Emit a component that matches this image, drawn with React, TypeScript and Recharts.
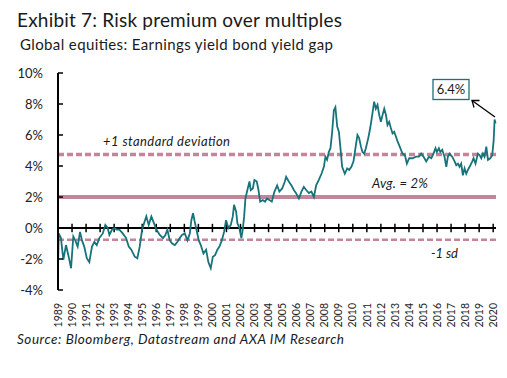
import React from 'react';
import { LineChart, Line, XAxis, YAxis, ReferenceLine } from 'recharts';

const years = [1989,1990,1991,1992,1993,1994,1995,1996,1997,1998,1999,2000,2001,2002,2003,2004,2005,2006,2007,2008,2009,2010,2011,2012,2013,2014,2015,2016,2017,2018,2019,2020];

const dates = [
  1989.0,1989.05,1989.21,1989.38,1989.57,1989.76,1989.93,1990.09,1990.23,1990.4,1990.57,1990.71,1990.87,
  1991.05,1991.23,1991.42,1991.59,1991.76,1991.94,1992.19,1992.37,1992.54,1992.66,1992.85,1993.01,1993.18,
  1993.37,1993.61,1993.85,1994.04,1994.22,1994.47,1994.65,1994.82,1994.99,1995.13,1995.29,1995.46,1995.65,
  1995.84,1996.01,1996.25,1996.48,1996.65,1996.79,1996.96,1997.13,1997.32,1997.5,1997.67,1997.84,1998.03,
  1998.22,1998.39,1998.5,1998.62,1998.74,1998.86,1999.03,1999.17,1999.36,1999.55,1999.71,1999.88,2000.03,
  2000.19,2000.35,2000.5,2000.67,2000.83,2000.97,2001.14,2001.31,2001.45,2001.54,2001.69,2001.78,2001.92,
  2002.06,2002.16,2002.26,2002.35,2002.49,2002.64,2002.73,2002.88,2002.99,2003.16,2003.28,2003.4,2003.59,
  2003.75,2003.88,2004.06,2004.23,2004.4,2004.61,2004.77,2004.97,2005.16,2005.25,2005.44,2005.63,2005.8,
  2005.96,2006.16,2006.34,2006.51,2006.68,2006.87,2007.05,2007.23,2007.39,2007.58,2007.77,2007.94,2008.05,
  2008.17,2008.29,2008.41,2008.53,2008.65,2008.76,2008.89,2009.01,2009.12,2009.24,2009.43,2009.6,2009.74,
  2009.9,2010.05,2010.22,2010.33,2010.45,2010.58,2010.69,2010.81,2010.93,2011.1,2011.24,2011.4,2011.52,
  2011.64,2011.76,2011.88,2012.0,2012.12,2012.24,2012.36,2012.47,2012.59,2012.71,2012.83,2012.95,2013.07,
  2013.18,2013.3,2013.43,2013.54,2013.71,2013.85,2014.02,2014.25,2014.5,2014.71,2014.87,2015.04,2015.23,
  2015.42,2015.59,2015.75,2015.89,2015.99,2016.13,2016.23,2016.37,2016.53,2016.66,2016.77,2016.89,2017.08,
  2017.25,2017.37,2017.49,2017.6,2017.72,2017.84,2017.96,2018.08,2018.2,2018.32,2018.51,2018.6,2018.74,
  2018.91,2019.03,2019.15,2019.27,2019.38,2019.51,2019.63,2019.79,2019.93,2020.03,2020.1,2020.17
];

const gap = [
  -2.7,-0.35,-0.65,-2.05,-1.1,-1.85,-2.6,-0.55,-0.8,-1.2,-0.25,-0.8,-1.2,
  -1.95,-2.2,-1.2,-0.9,-1.1,-0.65,-0.35,0.2,0.0,-0.45,-0.1,0.0,-0.1,
  -0.1,-0.35,-0.65,-1.2,-1.4,-1.85,-1.95,-1.2,-0.1,0.3,0.75,0.2,0.75,
  0.3,-0.1,-0.45,-0.65,-0.45,-0.1,-0.8,-1.0,-1.1,-0.9,-0.65,-0.45,-0.35,
  -0.8,-0.35,0.5,0.95,0.4,-0.1,-0.8,-1.1,-1.65,-1.4,-2.2,-2.6,-1.85,
  -1.75,-1.4,-1.2,-0.8,-0.25,0.5,0.0,0.2,0.75,1.5,1.05,0.3,0.0,
  -0.65,-0.1,0.75,1.9,2.45,3.0,2.45,2.55,3.1,3.0,2.45,1.7,1.8,
  1.7,1.9,1.8,1.7,2.3,2.75,2.35,2.55,3.0,3.3,3.0,2.75,2.45,
  2.25,1.9,2.35,2.65,2.45,2.25,2.35,2.0,2.75,3.1,3.5,3.95,4.6,
  4.4,4.9,5.15,6.2,7.6,7.8,6.55,6.2,5.15,3.95,3.5,3.85,3.75,
  3.95,4.3,5.35,6.0,5.8,5.25,4.9,4.8,5.15,5.8,6.45,7.4,8.15,
  7.7,7.95,7.3,6.85,7.3,7.7,7.3,6.65,6.85,6.45,6.1,6.2,5.9,
  5.6,5.35,5.05,4.8,4.7,4.15,4.5,4.5,4.6,4.6,4.8,4.6,4.3,
  4.6,4.5,4.8,5.15,4.9,5.15,4.9,5.05,4.6,3.95,4.6,4.8,4.6,
  4.3,4.05,4.15,3.95,4.15,3.4,3.85,3.5,3.75,3.95,4.3,4.5,4.15,
  4.8,4.7,4.5,4.8,4.6,5.25,4.4,4.5,4.7,5.6,7.0,6.75
];

const yTicks = [-4, -2, 0, 2, 4, 6, 8, 10];
const average = 2.0;
const plusOneSd = 4.75;
const minusOneSd = -0.75;

const data = dates.map((t, i) => ({ t, v: gap[i] }));

const FONT = 'Lato, "Open Sans", sans-serif';
const PINK = '#C4859A';
const TEAL = '#17737A';

const YTick = (props: any) => {
  const { x, y, payload } = props;
  return (
    <g>
      <line x1={x} x2={x + 5} y1={y} y2={y} stroke="#000" strokeWidth={1.5} />
      <text x={x - 15} y={y} dy="0.35em" textAnchor="end" fontSize={13} fill="#222" fontFamily={FONT}>
        {payload.value}%
      </text>
    </g>
  );
};

const XTick = (props: any) => {
  const { x, y, payload } = props;
  return (
    <text
      transform={`translate(${x},${y + 13}) rotate(-90)`}
      textAnchor="end"
      dy="0.35em"
      fontSize={10.5}
      fill="#222"
      fontFamily={FONT}
    >
      {payload.value}
    </text>
  );
};

export default function App() {
  return (
    <div style={{ position: 'absolute', left: 0, top: 0, width: 507, height: 378, background: '#fff' }}>
      <LineChart
        width={507}
        height={378}
        data={data}
        margin={{ top: 73, right: 11, bottom: 58, left: 0 }}
      >
        <XAxis
          dataKey="t"
          type="number"
          domain={[1989, 2020.2]}
          ticks={years}
          interval={0}
          axisLine={false}
          tickLine={false}
          tickSize={0}
          tickMargin={0}
          height={30}
          tick={<XTick />}
        />
        <YAxis
          type="number"
          domain={[-4, 10]}
          ticks={yTicks}
          interval={0}
          width={58}
          axisLine={{ stroke: '#000', strokeWidth: 2 }}
          tickLine={false}
          tickSize={0}
          tickMargin={0}
          tick={<YTick />}
        />
        <ReferenceLine y={average} stroke={PINK} strokeWidth={4} ifOverflow="visible" />
        <ReferenceLine y={plusOneSd} stroke={PINK} strokeWidth={3.5} strokeDasharray="6 3" ifOverflow="visible" />
        <ReferenceLine y={minusOneSd} stroke={PINK} strokeWidth={2.5} strokeDasharray="6 3" ifOverflow="visible" />
        <ReferenceLine y={0} stroke="#000" strokeWidth={2} />
        {years.map((yr) => (
          <ReferenceLine
            key={yr}
            segment={[{ x: yr, y: -0.27 }, { x: yr, y: 0.27 }]}
            stroke="#000"
            strokeWidth={1.5}
          />
        ))}
        <Line
          type="linear"
          dataKey="v"
          stroke={TEAL}
          strokeWidth={1.8}
          dot={false}
          isAnimationActive={false}
        />
      </LineChart>
      <svg
        width={507}
        height={378}
        style={{ position: 'absolute', left: 0, top: 0, pointerEvents: 'none' }}
        fontFamily={FONT}
      >
        <text x={17} y={27} fontSize={19} fill="#1a1a1a" textLength={325} lengthAdjust="spacing">
          Exhibit 7: Risk premium over multiples
        </text>
        <text x={20} y={49.5} fontSize={15} fill="#1a1a1a" textLength={313} lengthAdjust="spacing">
          Global equities: Earnings yield bond yield gap
        </text>
        <text x={17} y={344} fontSize={13.5} fontStyle="italic" fill="#1a1a1a" textLength={327} lengthAdjust="spacing">
          Source: Bloomberg, Datastream and AXA IM Research
        </text>
        <text x={103} y={146} fontSize={13} fontStyle="italic" fill="#1a1a1a" textLength={127} lengthAdjust="spacing">
          +1 standard deviation
        </text>
        <text x={372} y={188} fontSize={13} fontStyle="italic" fill="#1a1a1a" textLength={56} lengthAdjust="spacing">
          Avg. = 2%
        </text>
        <text x={431} y={258} fontSize={13} fontStyle="italic" fill="#1a1a1a" textLength={27} lengthAdjust="spacing">
          -1 sd
        </text>
        <rect x={433} y={79.5} width={36} height={20} fill="#fff" stroke={TEAL} strokeWidth={1.3} />
        <text x={451} y={94} fontSize={13} textAnchor="middle" fill="#1a1a1a">
          6.4%
        </text>
        <line x1={495} y1={117} x2={472} y2={100.5} stroke="#000" strokeWidth={1.3} />
        <polyline points="474,107.5 472,100.5 479.5,100.5" fill="none" stroke="#000" strokeWidth={1.3} />
      </svg>
    </div>
  );
}
